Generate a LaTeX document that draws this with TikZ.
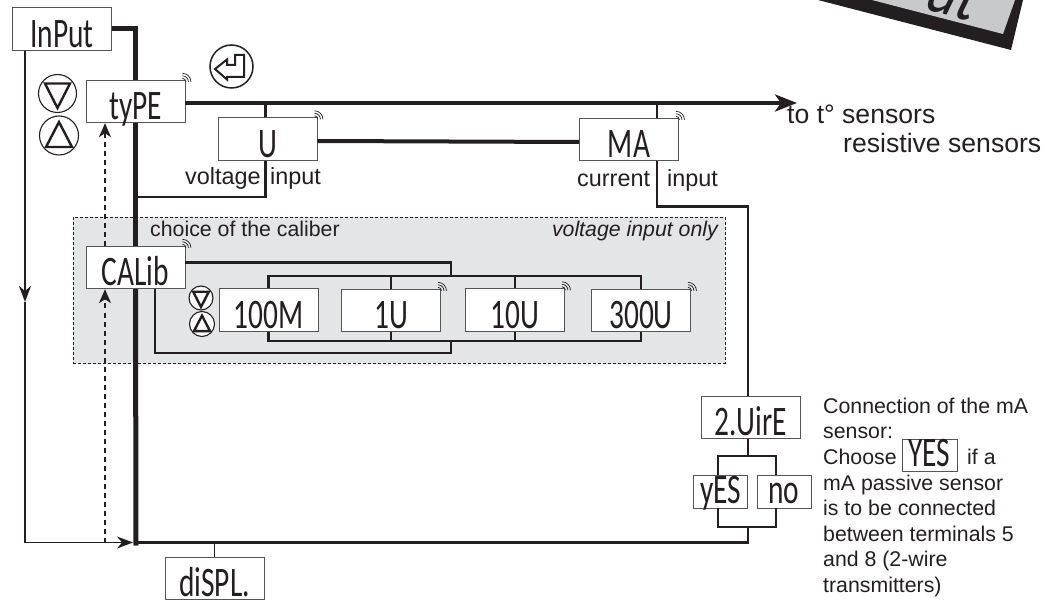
\documentclass[tikz,border=0pt]{standalone}
\usepackage{fontspec}
\setmainfont{Liberation Sans}
\newfontfamily\lcdfont[FakeStretch=0.7]{Carlito}
\newfontfamily\lcdslant[FakeStretch=0.8,FakeSlant=0.2]{Carlito}
\definecolor{ink}{RGB}{35,31,32}
\definecolor{boxline}{RGB}{85,85,85}
\definecolor{panelgray}{RGB}{228,229,231}
\definecolor{labelgray}{RGB}{200,201,203}
\usetikzlibrary{arrows.meta, positioning, calc}

\begin{document}
\begin{tikzpicture}[
    x=1pt, y=-1pt,
    lcd/.style={draw=boxline, fill=white, line width=0.9pt, inner sep=0pt, text=ink, minimum width=99pt,
        text height=39.5pt, text depth=3pt, font=\lcdfont\fontsize{42}{42}\selectfont},
    lcdsmall/.style={lcd, minimum width=54pt, text height=28pt, text depth=5pt},
    note/.style={inner sep=0pt, text=ink, font=\fontsize{21.3}{25.4}\selectfont},
    wide/.style={inner sep=0pt, text=ink, font=\fontsize{26.6}{30}\selectfont},
    mid/.style={inner sep=0pt, text=ink, font=\fontsize{23.4}{26}\selectfont},
    mainline/.style={draw=ink, line width=5pt},
    wire/.style={draw=ink, line width=2.6pt},
    heavy/.style={draw=ink, line width=4pt},
    thinarr/.style={draw=ink, line width=1.6pt, -{Stealth[length=16pt,width=12pt,inset=5pt]}},
    dasharr/.style={draw=ink, line width=1.2pt, dash pattern=on 5pt off 4pt, -{Stealth[length=14pt,width=12pt,inset=4pt]}},
    button/.style={circle, draw=ink, line width=1.1pt, fill=white, inner sep=0pt},
    tri/.style={draw=ink, line width=2.4pt, line join=miter},
    tick/.style={draw=ink, line width=0.7pt}
]
    \useasboundingbox (0,0) rectangle (1062,601);

    % corner of the title label
    \fill[ink] (818,0) -- (1011,50) -- (1023,0) -- cycle;
    \fill[labelgray] (872,0) -- (1003,34) -- (1015,0) -- cycle;
    \begin{scope}
        \clip (872,0) -- (1003,34) -- (1015,0) -- cycle;
        \node[inner sep=0pt, anchor=base, rotate=-14.5, text=ink, font=\lcdslant\fontsize{72}{72}\selectfont] (title) at (945,15) {ut};
    \end{scope}

    \node[draw=ink, fill=panelgray, line width=0.8pt, dash pattern=on 3pt off 2pt, minimum width=652pt, minimum height=146pt] (panel) at (399,290) {};

    \node[lcd] (input) at (62,29) {InPut};
    \node[lcd] (type) at (135.5,101.5) {tyPE};
    \node[lcd] (u) at (267.5,139) {U};
    \node[lcd] (ma) at (629,139.5) {MA};
    \node[lcd] (calib) at (135.5,267.5) {CALib};
    \node[lcd] (m100) at (268.5,310) {100M};
    \node[lcd] (u1) at (391,310.5) {1U};
    \node[lcd] (u10) at (515,310) {10U};
    \node[lcd] (u300) at (641,310.5) {300U};
    \node[lcd] (wire2) at (750.5,417.5) {2.UirE};
    \node[lcdsmall] (yes) at (720.5,491.5) {yES};
    \node[lcdsmall] (no) at (784,491.5) {no};
    \node[lcd] (displ) at (214.5,578.5) {diSPL.};

    \coordinate (tosens) at (797,103);
    \coordinate (uline) at (265.5,197);
    \coordinate (maline) at (657,206.5);
    \coordinate (bustop) at (451,276);
    \coordinate (busbot) at (451,341);
    \coordinate (calbot) at (451,353);
    \coordinate (splittop) at (748,456);
    \coordinate (splitbot) at (748,527);
    \coordinate (mainbot) at (136,542.5);
    \coordinate (leftmid) at (25,302);
    \coordinate (leftbot) at (25,542.5);
    \coordinate (dashbot) at (105,542.5);

    % main line, behind the boxes
    \draw[mainline] (input.east) -| (type.north);
    \draw[mainline] (type.south) -- (calib.north);
    \draw[mainline] (calib.south) -- ([yshift=-3pt]mainbot);
    \draw[wire] (mainbot) -- (mainbot -| splitbot) -- (splitbot);
    \draw[draw=ink, line width=1pt] (mainbot -| displ.north) -- (displ.north);

    \draw[heavy, -{Stealth[length=22pt,width=17pt,inset=6pt]}] (type.east |- tosens) -- (tosens);
    \draw[wire] ([xshift=-2pt]u.north) -- ([xshift=-2pt]u.north |- tosens);
    \draw[wire] ([xshift=28pt]ma.north) -- ([xshift=28pt]ma.north |- tosens);
    \draw[heavy] ([yshift=-2pt]u.east) -- ([yshift=-2.5pt]ma.west);
    \draw[wire] ([xshift=-2pt]u.south) |- (uline) -- (uline -| type.south);
    \draw[wire] ([xshift=28pt]ma.south) |- (maline) -| ([xshift=-2.5pt]wire2.north);

    % caliber choice
    \draw[wire] ([yshift=5pt]calib.east) -| (bustop);
    \draw[wire] (m100.north) |- (bustop) -| (u300.north);
    \draw[wire] (m100.south) |- (busbot) -| (u300.south);
    \draw[wire] ([xshift=19.5pt]calib.south) |- (calbot) -- (busbot);
    \foreach \b in {u1,u10} {
        \draw[wire] (\b.north) -- (\b.north |- bustop);
        \draw[wire] (\b.south) -- (\b.south |- busbot);
    }

    % 2-wire choice
    \draw[wire] ([xshift=-2.5pt]wire2.south) -- (splittop);
    \draw[wire] ([xshift=-2.5pt]yes.north) |- (splittop) -| ([xshift=-8pt]no.north);
    \draw[wire] ([xshift=-2.5pt]yes.south) |- (splitbot) -| ([xshift=-8pt]no.south);

    % return path on the left
    \draw[thinarr] (leftmid |- input.south) -- (leftmid);
    \draw[draw=ink, line width=1.6pt] (leftmid) -- (leftbot) -- (dashbot);
    \draw[thinarr] (dashbot) -- ([xshift=-3pt]mainbot);
    \draw[dasharr] (dashbot) -- (dashbot |- calib.south);
    \draw[dasharr] (dashbot |- calib.north) -- (dashbot |- type.south);

    % little marks on the box corners
    \foreach \b in {type,u,ma,calib,u1,u10,u300} {
        \foreach \r in {3.5,6,8.5} {
            \draw[tick] ([shift={(90:\r pt)}]$(\b.north east)+(-3,2)$) arc[start angle=90, end angle=0, radius=\r pt];
        }
    }

    % keys
    \node[button, minimum size=38pt] (dnbig) at (57.5,93.5) {};
    \node[button, minimum size=39pt] (upbig) at (59,135.5) {};
    \node[button, minimum size=24pt] (dnsmall) at (201,298) {};
    \node[button, minimum size=25pt] (upsmall) at (202,324) {};
    \node[button, line width=1.5pt, minimum size=43pt] (enter) at (231.5,66.5) {};
    \foreach \c/\s in {dnbig/1,dnsmall/0.62} {
        \draw[tri] ([shift={(-12.5*\s,-10*\s)}]\c.center) -- ([shift={(12.5*\s,-10*\s)}]\c.center) -- ([shift={(0,14.5*\s)}]\c.center) -- cycle;
    }
    \foreach \c/\s in {upbig/1,upsmall/0.62} {
        \draw[tri] ([shift={(-13*\s,11.5*\s)}]\c.center) -- ([shift={(13*\s,11.5*\s)}]\c.center) -- ([shift={(0,-13.5*\s)}]\c.center) -- cycle;
    }
    \draw[tri, line width=2pt] ([shift={(-16.5,2.5)}]enter.center) -- ([shift={(-4.5,-7)}]enter.center) -- ([shift={(-4.5,-1.5)}]enter.center) -- ([shift={(3.5,-1.5)}]enter.center) -- ([shift={(3.5,-11.5)}]enter.center) -- ([shift={(12.5,-11.5)}]enter.center) -- ([shift={(12.5,10.5)}]enter.center) -- ([shift={(-4.5,10.5)}]enter.center) -- ([shift={(-4.5,13)}]enter.center) -- cycle;

    % texts
    \node[wide, anchor=base west] (tot) at (787,124) {to t\textdegree{} sensors};
    \node[wide, anchor=base west] (resist) at (843,153) {resistive sensors};
    \node[mid, anchor=base west] (volt) at (185,185) {voltage};
    \node[mid, anchor=base west] (voltin) at (270,185) {input};
    \node[mid, anchor=base west] (curr) at (577,187) {current};
    \node[mid, anchor=base west] (currin) at (667,187) {input};
    \node[note, anchor=base west] (choice) at (150,237) {choice of the caliber};
    \node[note, anchor=base east] (only) at (718,237) {\itshape voltage input only};
    \node[note, anchor=base west] (conn) at (823,413) {Connection of the mA};
    \node[note, anchor=base west] (conn2) at (823,438) {sensor:};
    \node[note, anchor=base west] (choose) at (823,464) {Choose};
    \node[lcdsmall, fill=none, minimum width=55pt, text height=27pt, text depth=5pt] (yesinline) at (929.5,455.5) {YES};
    \node[note, anchor=base west] (ifa) at (967,464) {if a};
    \node[note, anchor=base west, align=left] (conn3) at (823,490) {mA passive sensor};
    \node[note, anchor=base west] (conn4) at (823,515) {is to be connected};
    \node[note, anchor=base west] (conn5) at (823,541) {between terminals 5};
    \node[note, anchor=base west] (conn6) at (823,566) {and 8 (2-wire};
    \node[note, anchor=base west] (conn7) at (823,592) {transmitters)};
\end{tikzpicture}
\end{document}
